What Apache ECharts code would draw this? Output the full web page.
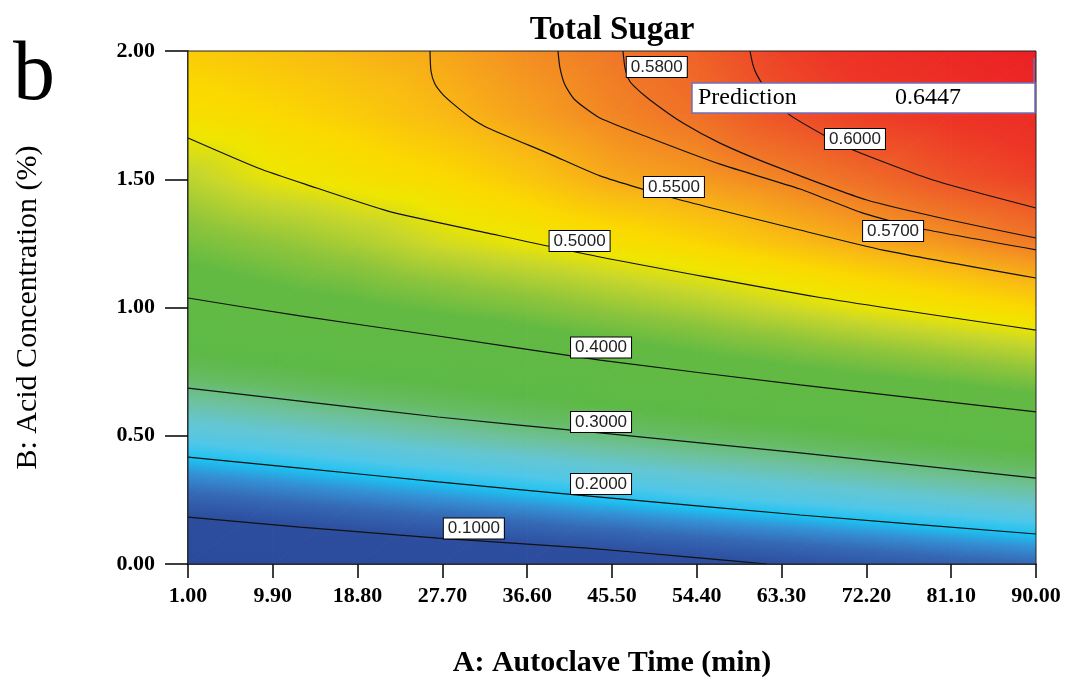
<!DOCTYPE html>
<html><head><meta charset="utf-8">
<script src="https://cdn.jsdelivr.net/npm/echarts@6/dist/echarts.min.js"></script>
<style>html,body{margin:0;padding:0;background:#fff}#c{width:1066px;height:684px}</style>
</head><body><div id="c"></div>
<script>
// ---------- data ----------
const titleText = 'Total Sugar';
const xName = 'A: Autoclave Time (min)';
const yName = 'B: Acid Concentration (%)';
const xTickValues = [1, 9.9, 18.8, 27.7, 36.6, 45.5, 54.4, 63.3, 72.2, 81.1, 90];
const yTickValues = [0, 0.5, 1, 1.5, 2];

// response surface sampled on a grid (columns: A, rows: B)
const gridA = [1, 9.9, 18.8, 27.7, 36.6, 45.5, 54.4, 63.3, 72.2, 81.1, 90];
const gridB = [0, 0.25, 0.5, 0.75, 1.0, 1.25, 1.5, 1.75, 2.0];
const surface = [
  [0.015, 0.030, 0.045, 0.055, 0.065, 0.076, 0.089, 0.101, 0.114, 0.127, 0.140],
  [0.129, 0.142, 0.156, 0.169, 0.182, 0.197, 0.211, 0.223, 0.235, 0.248, 0.261],
  [0.231, 0.244, 0.258, 0.272, 0.286, 0.298, 0.311, 0.322, 0.336, 0.350, 0.364],
  [0.318, 0.330, 0.344, 0.357, 0.372, 0.386, 0.400, 0.412, 0.424, 0.436, 0.449],
  [0.389, 0.403, 0.414, 0.427, 0.439, 0.453, 0.466, 0.482, 0.497, 0.509, 0.522],
  [0.434, 0.449, 0.465, 0.485, 0.498, 0.510, 0.522, 0.537, 0.551, 0.563, 0.577],
  [0.474, 0.496, 0.508, 0.518, 0.533, 0.551, 0.560, 0.572, 0.586, 0.601, 0.612],
  [0.511, 0.520, 0.530, 0.542, 0.556, 0.571, 0.583, 0.602, 0.615, 0.623, 0.632],
  [0.530, 0.537, 0.545, 0.553, 0.567, 0.579, 0.592, 0.613, 0.627, 0.636, 0.645]
];

// contour lines [A, B]
const contour010 = [[1,0.183],[12.75,0.144],[27.24,0.101],[42.88,0.062],[53.69,0.027],[61.77,0]];
const contour020 = [[1,0.417],[12.75,0.374],[27.24,0.320],[44.24,0.261],[65.23,0.191],[90,0.117]];
const contour030 = [[1,0.686],[12.75,0.635],[27.24,0.573],[44.24,0.511],[65.23,0.433],[90,0.335]];
const contour040 = [[1,1.037],[12.75,0.967],[27.24,0.889],[44.24,0.795],[65.23,0.698],[90,0.593]];
const contour050 = [[1,1.661],[8.35,1.544],[13.28,1.481],[21.99,1.376],[32.49,1.290],[44.24,1.197],[67.02,1.041],[90,0.912]];
const contour055 = [[26.40,2.0],[26.50,1.922],[26.92,1.871],[27.76,1.830],[29.02,1.788],[30.70,1.739],[32.49,1.700],[38.99,1.598],[44.24,1.513],[52.32,1.423],[65.23,1.302],[73.94,1.224],[90,1.115]];
const contour057 = [[39.83,2.0],[40.04,1.934],[40.57,1.867],[41.62,1.809],[44.24,1.739],[49.49,1.661],[56.84,1.559],[65.23,1.462],[71.84,1.368],[78.14,1.306],[90,1.225]];
const contour058 = [[46.65,2.0],[46.86,1.934],[47.18,1.895],[47.70,1.867],[49.49,1.809],[52.95,1.719],[56.84,1.641],[61.77,1.563],[72.26,1.419],[80.97,1.341],[90,1.271]];
const contour060 = [[59.98,2.0],[60.30,1.945],[60.72,1.906],[62.08,1.828],[64.18,1.750],[68.07,1.665],[70.79,1.614],[79.19,1.497],[90,1.388]];

// contour label anchors [A, B, text]
const contourLabels = [
  [50.2, 1.938, '0.5800'],
  [71.0, 1.657, '0.6000'],
  [52.0, 1.470, '0.5500'],
  [75.0, 1.298, '0.5700'],
  [42.1, 1.259, '0.5000'],
  [44.35, 0.844, '0.4000'],
  [44.35, 0.554, '0.3000'],
  [44.35, 0.312, '0.2000'],
  [31.0, 0.138, '0.1000']
];
const predictionLabel = 'Prediction';
const predictionValue = '0.6447';

// ---------- colour map (style) ----------
const cmap = [
  [0.00,'#2a4a9a'],[0.10,'#2d4e9f'],[0.14,'#3568b5'],[0.17,'#3490d4'],[0.195,'#1cc2f2'],
  [0.22,'#50c7e8'],[0.25,'#64c6d2'],[0.28,'#6ec19c'],[0.31,'#66bb62'],[0.34,'#5db946'],
  [0.42,'#63ba43'],[0.45,'#8fc53b'],[0.48,'#c8d72b'],[0.50,'#efe600'],[0.52,'#fbd900'],
  [0.54,'#f9bd12'],[0.56,'#f59a1f'],[0.58,'#f07527'],[0.60,'#ee5528'],[0.62,'#ed3626'],[0.65,'#eb1c24']
];
function hex(c){return [parseInt(c.substr(1,2),16),parseInt(c.substr(3,2),16),parseInt(c.substr(5,2),16)];}
const cmapRGB = cmap.map(s => [s[0], hex(s[1])]);
function rgbStr(c){return 'rgb(' + c.map(x => Math.round(x)).join(',') + ')';}
function colorOf(v){
  if (v <= cmapRGB[0][0]) return rgbStr(cmapRGB[0][1]);
  for (let k = 1; k < cmapRGB.length; k++){
    if (v <= cmapRGB[k][0]){
      const a = cmapRGB[k-1], b = cmapRGB[k];
      const t = (v - a[0]) / (b[0] - a[0]);
      return rgbStr([0,1,2].map(q => a[1][q] + (b[1][q]-a[1][q])*t));
    }
  }
  return rgbStr(cmapRGB[cmapRGB.length-1][1]);
}

function triangle(P0, P1, P2, v0, v1, v2){
  const d1x = P1[0]-P0[0], d1y = P1[1]-P0[1], d2x = P2[0]-P0[0], d2y = P2[1]-P0[1];
  const dv1 = v1-v0, dv2 = v2-v0;
  const det = d1x*d2y - d1y*d2x;
  const a = (dv1*d2y - dv2*d1y)/det;
  const b = (d1x*dv2 - d2x*dv1)/det;
  const g2 = a*a + b*b;
  const vmin = Math.min(v0,v1,v2), vmax = Math.max(v0,v1,v2);
  let fill;
  if (g2 < 1e-14 || vmax - vmin < 1e-6) {
    fill = colorOf((v0+v1+v2)/3);
  } else {
    const sx = P0[0] + (vmin - v0)*a/g2, sy = P0[1] + (vmin - v0)*b/g2;
    const ex = P0[0] + (vmax - v0)*a/g2, ey = P0[1] + (vmax - v0)*b/g2;
    const stops = [{offset:0, color: colorOf(vmin)}];
    cmap.forEach(s => { if (s[0] > vmin && s[0] < vmax) stops.push({offset:(s[0]-vmin)/(vmax-vmin), color: s[1]}); });
    stops.push({offset:1, color: colorOf(vmax)});
    fill = new echarts.graphic.LinearGradient(sx, sy, ex, ey, stops, true);
  }
  return {type:'polygon', shape:{points:[P0,P1,P2]}, style:{fill: fill, stroke: fill, lineWidth: 1}};
}

const cells = [];
for (let j = 0; j < gridB.length-1; j++)
  for (let i = 0; i < gridA.length-1; i++)
    cells.push([gridA[i], gridB[j], i, j]);

function renderCell(params, api){
  const i = api.value(2), j = api.value(3);
  const p00 = api.coord([gridA[i], gridB[j]]);
  const p10 = api.coord([gridA[i+1], gridB[j]]);
  const p11 = api.coord([gridA[i+1], gridB[j+1]]);
  const p01 = api.coord([gridA[i], gridB[j+1]]);
  const v00 = surface[j][i], v10 = surface[j][i+1], v11 = surface[j+1][i+1], v01 = surface[j+1][i];
  return {type:'group', children:[
    triangle(p00, p10, p11, v00, v10, v11),
    triangle(p00, p11, p01, v00, v11, v01)
  ]};
}

const serif = 'Liberation Serif, Times New Roman, serif';
const sans = 'Liberation Sans, Arial, sans-serif';

function renderLabel(params, api){
  const p = api.coord([api.value(0), api.value(1)]);
  return {type:'text', x: p[0], y: p[1], z2: 10, style: {
    text: contourLabels[params.dataIndex][2], font: '17px ' + sans, fill: '#222',
    align: 'center', verticalAlign: 'middle',
    backgroundColor: '#fff', borderColor: '#000', borderWidth: 1, padding: [2, 4, 1, 4]
  }};
}

const contours = [contour010, contour020, contour030, contour040, contour050, contour055, contour057, contour058, contour060];

const chart = echarts.init(document.getElementById('c'), null, {renderer:'canvas'});
chart.setOption({
  animation: false,
  backgroundColor: '#fff',
  title: {
    text: titleText, left: 607, top: 9, textAlign: 'center',
    textStyle: {fontFamily: serif, fontSize: 33, fontWeight: 'bold', color: '#000'}
  },
  grid: {left: 188, right: 30, top: 51, bottom: 120, show: true, z: 10,
    backgroundColor: 'transparent', borderColor: '#222', borderWidth: 1},
  xAxis: {
    type: 'value', min: 1, max: 90,
    name: xName, nameLocation: 'middle', nameGap: 84,
    nameTextStyle: {fontFamily: serif, fontSize: 30, fontWeight: 'bold', color: '#000'},
    axisLine: {show: true, lineStyle: {color: '#000', width: 1.5}},
    axisTick: {show: true, inside: false, length: 14, customValues: xTickValues, lineStyle: {color: '#000', width: 1.5}},
    axisLabel: {customValues: xTickValues, margin: 21, formatter: v => v.toFixed(2),
      fontFamily: serif, fontSize: 22, fontWeight: 'bold', color: '#000'},
    splitLine: {show: false}
  },
  yAxis: {
    type: 'value', min: 0, max: 2, interval: 0.5,
    name: yName, nameLocation: 'middle', nameGap: 145, nameRotate: 90,
    nameTextStyle: {fontFamily: serif, fontSize: 30, color: '#000'},
    axisLine: {show: true, lineStyle: {color: '#000', width: 1.5}},
    axisTick: {show: true, inside: false, length: 23, lineStyle: {color: '#000', width: 1.5}},
    axisLabel: {margin: 33, formatter: v => v.toFixed(2),
      fontFamily: serif, fontSize: 22, fontWeight: 'bold', color: '#000'},
    splitLine: {show: false}
  },
  graphic: [
    {type: 'text', left: 13, top: 35, z: 20,
      style: {text: 'b', font: '84px ' + serif, fill: '#000'}},
    {type: 'rect', z: 30, shape: {x: 692, y: 83, width: 343, height: 30},
      style: {fill: '#fff', stroke: '#6f6fbf', lineWidth: 1.5}},
    {type: 'line', z: 30, shape: {x1: 1034, y1: 58, x2: 1034, y2: 83},
      style: {stroke: '#6f6fbf', lineWidth: 1.5}},
    {type: 'text', z: 31, x: 698, y: 98,
      style: {text: predictionLabel, font: '24px ' + serif, fill: '#000', verticalAlign: 'middle'}},
    {type: 'text', z: 31, x: 895, y: 98,
      style: {text: predictionValue, font: '24px ' + serif, fill: '#000', verticalAlign: 'middle'}}
  ],
  series: [
    {type: 'custom', renderItem: renderCell, data: cells, encode: {x: 0, y: 1}, z: 1, clip: true, silent: true},
    ...contours.map(c => ({
      type: 'line', data: c, showSymbol: false, symbol: 'none', smooth: 0.2, z: 3, silent: true,
      lineStyle: {color: '#111', width: 1.2}
    })),
    {type: 'custom', renderItem: renderLabel, data: contourLabels.map(d => [d[0], d[1]]),
      encode: {x: 0, y: 1}, z: 5, silent: true}
  ]
});
</script></body></html>
